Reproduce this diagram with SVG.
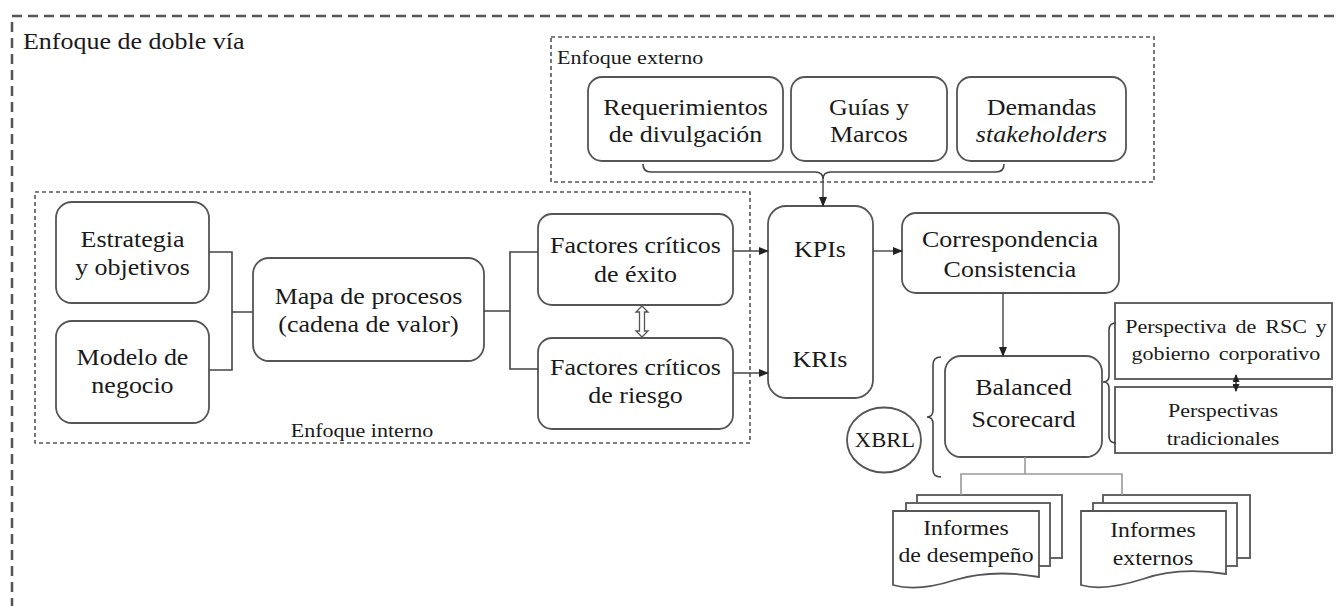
<svg xmlns="http://www.w3.org/2000/svg" width="1336" height="606" viewBox="0 0 1336 606">
<defs>
<style>
.bg{fill:#fff}
.box{fill:#fff;stroke:#555;stroke-width:1.8}
.t{font-family:"Liberation Serif","Times New Roman",serif;font-size:23px;fill:#1a1a1a;text-anchor:middle;transform-box:fill-box;transform-origin:center;transform:scaleX(1.13)}
.tl{font-family:"Liberation Serif","Times New Roman",serif;fill:#1a1a1a;text-anchor:start;transform-box:fill-box;transform-origin:left center;transform:scaleX(1.13)}
.ts{font-size:19.5px}
.td{font-size:21px}
.tx{font-size:20px}
.it{font-style:italic}
.outer{fill:none;stroke:#555;stroke-width:2.5;stroke-dasharray:10 6}
.inner{fill:none;stroke:#555;stroke-width:1.6;stroke-dasharray:4 3}
.ln{fill:none;stroke:#444;stroke-width:1.6}
.lg{fill:none;stroke:#999;stroke-width:1.6}
.ar{fill:none;stroke:#444;stroke-width:1.4;marker-end:url(#ah)}
</style>
<marker id="ah" markerUnits="userSpaceOnUse" markerWidth="10" markerHeight="8" refX="9" refY="4" orient="auto">
<path d="M0,0 L10,4 L0,8 Z" fill="#222"/>
</marker>
<marker id="ahs" markerUnits="userSpaceOnUse" markerWidth="8" markerHeight="7" refX="7" refY="3.5" orient="auto-start-reverse">
<path d="M0,0 L8,3.5 L0,7 Z" fill="#222"/>
</marker>
</defs>
<rect class="bg" x="0" y="0" width="1336" height="606"/>

<g id="doble-via">
<rect class="outer" x="12" y="16" width="1360" height="640"/>
<text class="tl" x="23" y="49" font-size="23">Enfoque de doble vía</text>
</g>

<g id="enfoque-externo">
<rect class="inner" x="551" y="37" width="603" height="145"/>
<text class="tl ts" x="557" y="64">Enfoque externo</text>
</g>

<g id="enfoque-interno">
<rect class="inner" x="35" y="192" width="715" height="251"/>
<text class="t ts" x="362" y="437">Enfoque interno</text>
</g>

<g id="requerimientos">
<rect class="box" x="588" y="77" width="195" height="84" rx="14"/>
<text class="t" x="685.5" y="115"><tspan x="685.5">Requerimientos</tspan><tspan x="685.5" dy="27">de divulgación</tspan></text>
</g>
<g id="guias">
<rect class="box" x="791" y="77" width="156" height="84" rx="14"/>
<text class="t" x="869" y="115"><tspan x="869">Guías y</tspan><tspan x="869" dy="27">Marcos</tspan></text>
</g>
<g id="demandas">
<rect class="box" x="957" y="77" width="169" height="84" rx="14"/>
<text class="t" x="1041.5" y="115"><tspan x="1041.5">Demandas</tspan><tspan x="1041.5" dy="27" class="it">stakeholders</tspan></text>
</g>

<g id="estrategia">
<rect class="box" x="56" y="202" width="153" height="101" rx="16"/>
<text class="t" x="132.5" y="247"><tspan x="132.5">Estrategia</tspan><tspan x="132.5" dy="28">y objetivos</tspan></text>
</g>
<g id="modelo">
<rect class="box" x="56" y="321" width="153" height="102" rx="16"/>
<text class="t" x="132.5" y="365"><tspan x="132.5">Modelo de</tspan><tspan x="132.5" dy="28">negocio</tspan></text>
</g>
<g id="mapa">
<rect class="box" x="253" y="258" width="231" height="103" rx="16"/>
<text class="t" x="368.5" y="304"><tspan x="368.5">Mapa de procesos</tspan><tspan x="368.5" dy="28">(cadena de valor)</tspan></text>
</g>
<g id="fce">
<rect class="box" x="538" y="214" width="195" height="91" rx="14"/>
<text class="t" x="635.5" y="253"><tspan x="635.5">Factores críticos</tspan><tspan x="635.5" dy="29">de éxito</tspan></text>
</g>
<g id="fcr">
<rect class="box" x="538" y="338" width="195" height="91" rx="14"/>
<text class="t" x="635.5" y="375"><tspan x="635.5">Factores críticos</tspan><tspan x="635.5" dy="28">de riesgo</tspan></text>
</g>
<g id="kpis">
<rect class="box" x="768" y="206" width="105" height="192" rx="18"/>
<text class="t" x="820" y="257">KPIs</text>
<text class="t" x="820" y="367">KRIs</text>
</g>
<g id="correspondencia">
<rect class="box" x="902" y="213" width="217" height="80" rx="14"/>
<text class="t" x="1010" y="247"><tspan x="1010">Correspondencia</tspan><tspan x="1010" dy="30">Consistencia</tspan></text>
</g>
<g id="balanced">
<rect class="box" x="945" y="356" width="157" height="101" rx="16"/>
<text class="t" x="1023.5" y="395"><tspan x="1023.5">Balanced</tspan><tspan x="1023.5" dy="32">Scorecard</tspan></text>
</g>
<g id="xbrl">
<ellipse class="box" cx="884" cy="440" rx="37" ry="32.5"/>
<text class="t tx" x="885" y="447">XBRL</text>
</g>
<g id="rsc">
<rect class="box" x="1115" y="303" width="217" height="76"/>
<text class="t ts" x="1226" y="333" word-spacing="3"><tspan x="1226">Perspectiva de RSC y</tspan><tspan x="1226" dy="27">gobierno corporativo</tspan></text>
</g>
<g id="tradicionales">
<rect class="box" x="1115" y="387" width="217" height="66"/>
<text class="t ts" x="1223" y="417"><tspan x="1223">Perspectivas</tspan><tspan x="1223" dy="28">tradicionales</tspan></text>
</g>
<g id="informes-desempeno">
<rect class="box" x="917" y="495" width="145" height="63"/>
<rect class="box" x="906" y="503" width="144" height="63"/>
<path class="box" d="M893,511 H1039 V577 C1000,570 975,574 955,580 C930,588 910,590 893,585 Z"/>
<text class="t td" x="966" y="535"><tspan x="966">Informes</tspan><tspan x="966" dy="27">de desempeño</tspan></text>
</g>
<g id="informes-externos">
<rect class="box" x="1103" y="495" width="147" height="63"/>
<rect class="box" x="1093" y="503" width="144" height="63"/>
<path class="box" d="M1081,511 H1226 V574 C1188,568 1163,572 1143,579 C1118,587 1098,590 1081,585 Z"/>
<text class="t td" x="1153" y="537"><tspan x="1153">Informes</tspan><tspan x="1153" dy="28">externos</tspan></text>
</g>

<g id="connectors">
<path class="ln" d="M643,164 Q643,172 651,172 L815,172 Q823,172 823,179 Q823,172 831,172 L996,172 Q1004,172 1004,164"/>
<path class="ar" d="M823,179 V206"/>
<path class="ln" d="M209,252 H232 V370 H209 M232,312 H253"/>
<path class="ln" d="M484,311 H510 M538,252 H510 V369 H538"/>
<path class="ar" d="M733,251 H768"/>
<path class="ar" d="M733,373 H768"/>
<path class="ar" d="M873,251 H902"/>
<path class="ar" d="M1003,293 V356"/>
<polygon points="642,306 648,312 644.5,312 644.5,331 648,331 642,337 636,331 639.5,331 639.5,312 636,312" fill="#fff" stroke="#555" stroke-width="1.3"/>
<path d="M1236,375 V391" fill="none" stroke="#222" stroke-width="1.4" marker-start="url(#ahs)" marker-end="url(#ahs)"/>
<path class="ln" d="M941,357 Q933,357 933,365 L933,410 Q933,417 927,417 Q933,417 933,424 L933,470 Q933,477 941,477"/>
<path class="ln" d="M1116,323 Q1109,323 1109,330 L1109,376 Q1109,382 1103,382 Q1109,382 1109,388 L1109,436 Q1109,443 1116,443"/>
<path class="lg" d="M1025,457 V474 M961,495 V474 H1122 V495"/>
</g>
</svg>
